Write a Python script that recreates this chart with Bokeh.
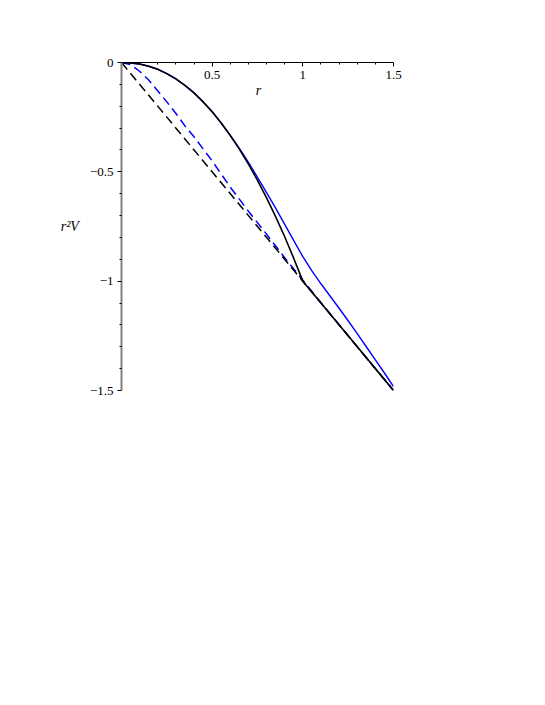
from bokeh.plotting import figure
from bokeh.models import FixedTicker, Label
from bokeh.embed import file_html
from bokeh.resources import INLINE

# ---- data ----
black_solid_r = [0, 0.05, 0.1, 0.15, 0.2, 0.25, 0.3, 0.35, 0.4, 0.45, 0.5, 0.55, 0.6, 0.65, 0.7,
                 0.75, 0.8, 0.85, 0.9, 0.95, 1.0, 1.25, 1.5]
black_solid_v = [0, -0.002, -0.007, -0.017, -0.031, -0.051, -0.075, -0.105, -0.139, -0.18, -0.225,
                 -0.277, -0.334, -0.396, -0.465, -0.539, -0.619, -0.705, -0.797, -0.896, -1.0,
                 -1.25, -1.5]

blue_solid_r = [0, 0.05, 0.1, 0.15, 0.2, 0.25, 0.3, 0.35, 0.4, 0.45, 0.5, 0.55, 0.6, 0.65, 0.7,
                0.75, 0.8, 0.85, 0.9, 0.95, 1.0, 1.05, 1.1, 1.15, 1.2, 1.25, 1.3, 1.35, 1.4,
                1.45, 1.5]
blue_solid_v = [0, -0.002, -0.007, -0.017, -0.031, -0.051, -0.075, -0.105, -0.139, -0.18, -0.225,
                -0.277, -0.333, -0.393, -0.457, -0.525, -0.595, -0.666, -0.74, -0.815, -0.888,
                -0.953, -1.012, -1.068, -1.124, -1.181, -1.24, -1.3, -1.36, -1.42, -1.482]

blue_dash_r = [0, 0.05, 0.1, 0.15, 0.2, 0.25, 0.3, 0.35, 0.4, 0.45, 0.5, 0.6, 0.7, 0.8, 0.9, 1.0, 1.25, 1.5]
blue_dash_v = [0, -0.01, -0.04, -0.08, -0.13, -0.18, -0.233, -0.29, -0.34, -0.395, -0.45, -0.57,
               -0.68, -0.785, -0.893, -0.996, -1.25, -1.5]

black_dash_r = [0, 1.0, 1.5]
black_dash_v = [0, -1.0, -1.5]

x_ticks = [0.5, 1, 1.5]
x_tick_labels = ["0.5", "1", "1.5"]
x_minor = [0.1, 0.2, 0.3, 0.4, 0.6, 0.7, 0.8, 0.9, 1.1, 1.2, 1.3, 1.4]
y_ticks = [-1.5, -1, -0.5, 0]
y_tick_labels = ["\u22121.5", "\u22121", "\u22120.5", "0"]
y_minor = [-1.4, -1.3, -1.2, -1.1, -0.9, -0.8, -0.7, -0.6, -0.4, -0.3, -0.2, -0.1]

FONT = "Liberation Serif"

p = figure(width=430, height=405, x_range=(0, 1.5), y_range=(-1.5, 0),
           x_axis_location="above", output_backend="svg", toolbar_location=None,
           frame_width=272, frame_height=328, min_border_left=121, min_border_top=62,
           min_border_right=30, min_border_bottom=10)
p.outline_line_color = None
p.grid.visible = False
p.background_fill_color = "white"
p.border_fill_color = "white"

# x axis (at y=0, labels below the line)
xa = p.xaxis[0]
xa.ticker = FixedTicker(ticks=x_ticks, minor_ticks=x_minor)
xa.major_label_overrides = {t: l for t, l in zip(x_ticks, x_tick_labels)}
xa.axis_line_color = "black"
xa.axis_line_width = 1
xa.major_tick_in = 4
xa.major_tick_out = 0
xa.minor_tick_in = 2
xa.minor_tick_out = 0
xa.major_tick_line_color = "black"
xa.minor_tick_line_color = "black"
xa.major_label_standoff = -16
xa.major_label_text_font = FONT
xa.major_label_text_font_size = "13px"
xa.major_label_text_color = "black"

# y axis
ya = p.yaxis[0]
ya.ticker = FixedTicker(ticks=y_ticks, minor_ticks=y_minor)
ya.major_label_overrides = {t: l for t, l in zip(y_ticks, y_tick_labels)}
ya.axis_line_color = "#808080"
ya.axis_line_width = 2
ya.major_tick_in = 0
ya.major_tick_out = 4
ya.minor_tick_in = 0
ya.minor_tick_out = 2
ya.major_tick_line_color = "black"
ya.minor_tick_line_color = "black"
ya.major_label_standoff = 4
ya.major_label_text_font = FONT
ya.major_label_text_font_size = "13px"
ya.major_label_text_color = "black"
ya.axis_label = "r\u00b2V"
ya.axis_label_orientation = "horizontal"
ya.axis_label_text_font = FONT
ya.axis_label_text_font_style = "italic"
ya.axis_label_text_font_size = "14px"
ya.axis_label_text_color = "black"
ya.axis_label_standoff = 8

# curves
p.line(blue_solid_r, blue_solid_v, line_color="#0000ff", line_width=1.4)
p.line(blue_dash_r, blue_dash_v, line_color="#0000ff", line_width=1.5, line_dash="9 5")
p.line(black_dash_r, black_dash_v, line_color="black", line_width=1.5, line_dash="9 5")
p.line(black_solid_r, black_solid_v, line_color="black", line_width=1.6)

p.add_layout(Label(x=0.755, y=-0.128, text="r", text_font=FONT, text_font_style="italic",
                   text_font_size="14px", text_align="center", text_baseline="middle",
                   text_color="black"))

open("out.html", "w").write(file_html(p, INLINE))
